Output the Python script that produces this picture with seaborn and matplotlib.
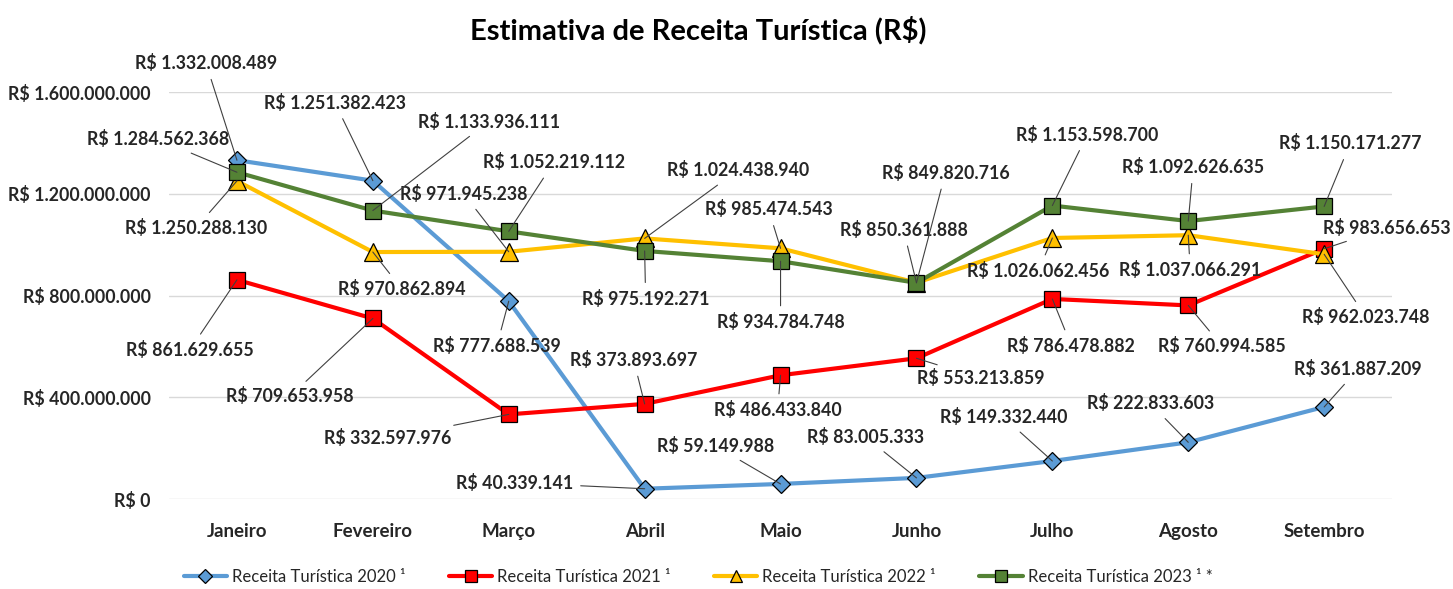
import numpy as np
import matplotlib
matplotlib.use('agg')
import matplotlib.pyplot as plt
import matplotlib.ticker as mticker
import pandas as pd
import seaborn as sns

meses = ["Janeiro", "Fevereiro", "Março", "Abril", "Maio", "Junho",
         "Julho", "Agosto", "Setembro"]

receita_2020 = [1332008489, 1251382423, 777688539, 40339141, 59149988,
                83005333, 149332440, 222833603, 361887209]
receita_2021 = [861629655, 709653958, 332597976, 373893697, 486433840,
                553213859, 786478882, 760994585, 983656653]
receita_2022 = [1250288130, 970862894, 971945238, 1024438940, 985474543,
                850361888, 1026062456, 1037066291, 962023748]
receita_2023 = [1284562368, 1133936111, 1052219112, 975192271, 934784748,
                849820716, 1153598700, 1092626635, 1150171277]

series_names = ["Receita Turística 2020 \u00b9", "Receita Turística 2021 \u00b9",
                "Receita Turística 2022 \u00b9", "Receita Turística 2023 \u00b9 *"]

# label offsets (pixels, relative to the data point) - picked by eye
off_2020 = [(-31, 97), (-38, 78), (-12, -45), (-130, 6), (-65, 38),
            (-51, 41), (-49, 44), (-38, 39), (34, 38)]
off_2021 = [(-47, -70), (-83, -78), (-121, -24), (-11, 44), (-3, -35),
            (64, -20), (19, -47), (34, -41), (63, 21)]
off_2022 = [(-41, -47), (29, -37), (-45, 58), (93, 68), (-12, 39),
            (-13, 53), (-14, -33), (2, -35), (42, -63)]
off_2023 = [(-79, 33), (116, 89), (45, 69), (1, -48), (0, -61),
            (29, 110), (35, 71), (5, 54), (26, 63)]


def brl(v, pos=None):
    return "R$ " + f"{int(round(v)):,}".replace(",", ".")


sns.set_style("white")
plt.rcParams['font.family'] = ['Lato', 'DejaVu Sans']

fig = plt.figure(figsize=(14.53, 5.89), dpi=100)
ax = fig.add_axes([0.1163, 0.1528, 0.8418, 0.691])

styles = [
    dict(color="#5B9BD5", marker="D", ms=9.5),
    dict(color="#FF0000", marker="s", ms=12),
    dict(color="#FFC000", marker="^", ms=13),
    dict(color="#548235", marker="s", ms=12),
]
all_vals = [receita_2020, receita_2021, receita_2022, receita_2023]
all_offs = [off_2020, off_2021, off_2022, off_2023]

for name, vals, st in zip(series_names, all_vals, styles):
    sns.lineplot(x=meses, y=vals, ax=ax, color=st["color"], linewidth=3,
                 marker=st["marker"], markersize=st["ms"],
                 markeredgecolor="black", markeredgewidth=0.9,
                 label=name, sort=False, zorder=3)

for vals, offs in zip(all_vals, all_offs):
    for i, (v, o) in enumerate(zip(vals, offs)):
        ax.annotate(brl(v), xy=(i, v), xytext=o, textcoords="offset pixels",
                    ha="center", va="center", fontsize=12.8, fontweight="bold",
                    color="#262626", annotation_clip=False, zorder=5,
                    arrowprops=dict(arrowstyle="-", color="#404040", lw=0.8,
                                    shrinkA=3, shrinkB=0))

ax.set_xlim(-0.5, 8.5)
ax.set_ylim(0, 1.6e9)
ax.yaxis.set_major_locator(mticker.MultipleLocator(4e8))
ax.yaxis.set_major_formatter(mticker.FuncFormatter(brl))
ax.grid(axis="y", color="#D9D9D9", linewidth=1)
ax.set_axisbelow(True)
for s in ax.spines.values():
    s.set_visible(False)
ax.tick_params(axis="both", length=0)
ax.tick_params(axis="x", pad=17)
ax.tick_params(axis="y", pad=13)
for lab in ax.get_xticklabels() + ax.get_yticklabels():
    lab.set_fontweight("bold")
    lab.set_fontsize(12.8)
    lab.set_color("#262626")
for lab in ax.get_xticklabels():
    lab.set_fontsize(13.5)
ax.set_xlabel("")
ax.set_ylabel("")

fig.text(0.4804, 0.949, "Estimativa de Receita Turística (R$)", ha="center",
         va="center", fontsize=21, fontweight="bold", color="black")

ax.legend(loc="center", bbox_to_anchor=(0.4804, 0.02),
          bbox_transform=fig.transFigure, ncol=4, frameon=False,
          fontsize=12, handlelength=2.6, columnspacing=2.6, markerscale=0.7,
          handletextpad=0.3)

fig.savefig("out.png", dpi=100)
